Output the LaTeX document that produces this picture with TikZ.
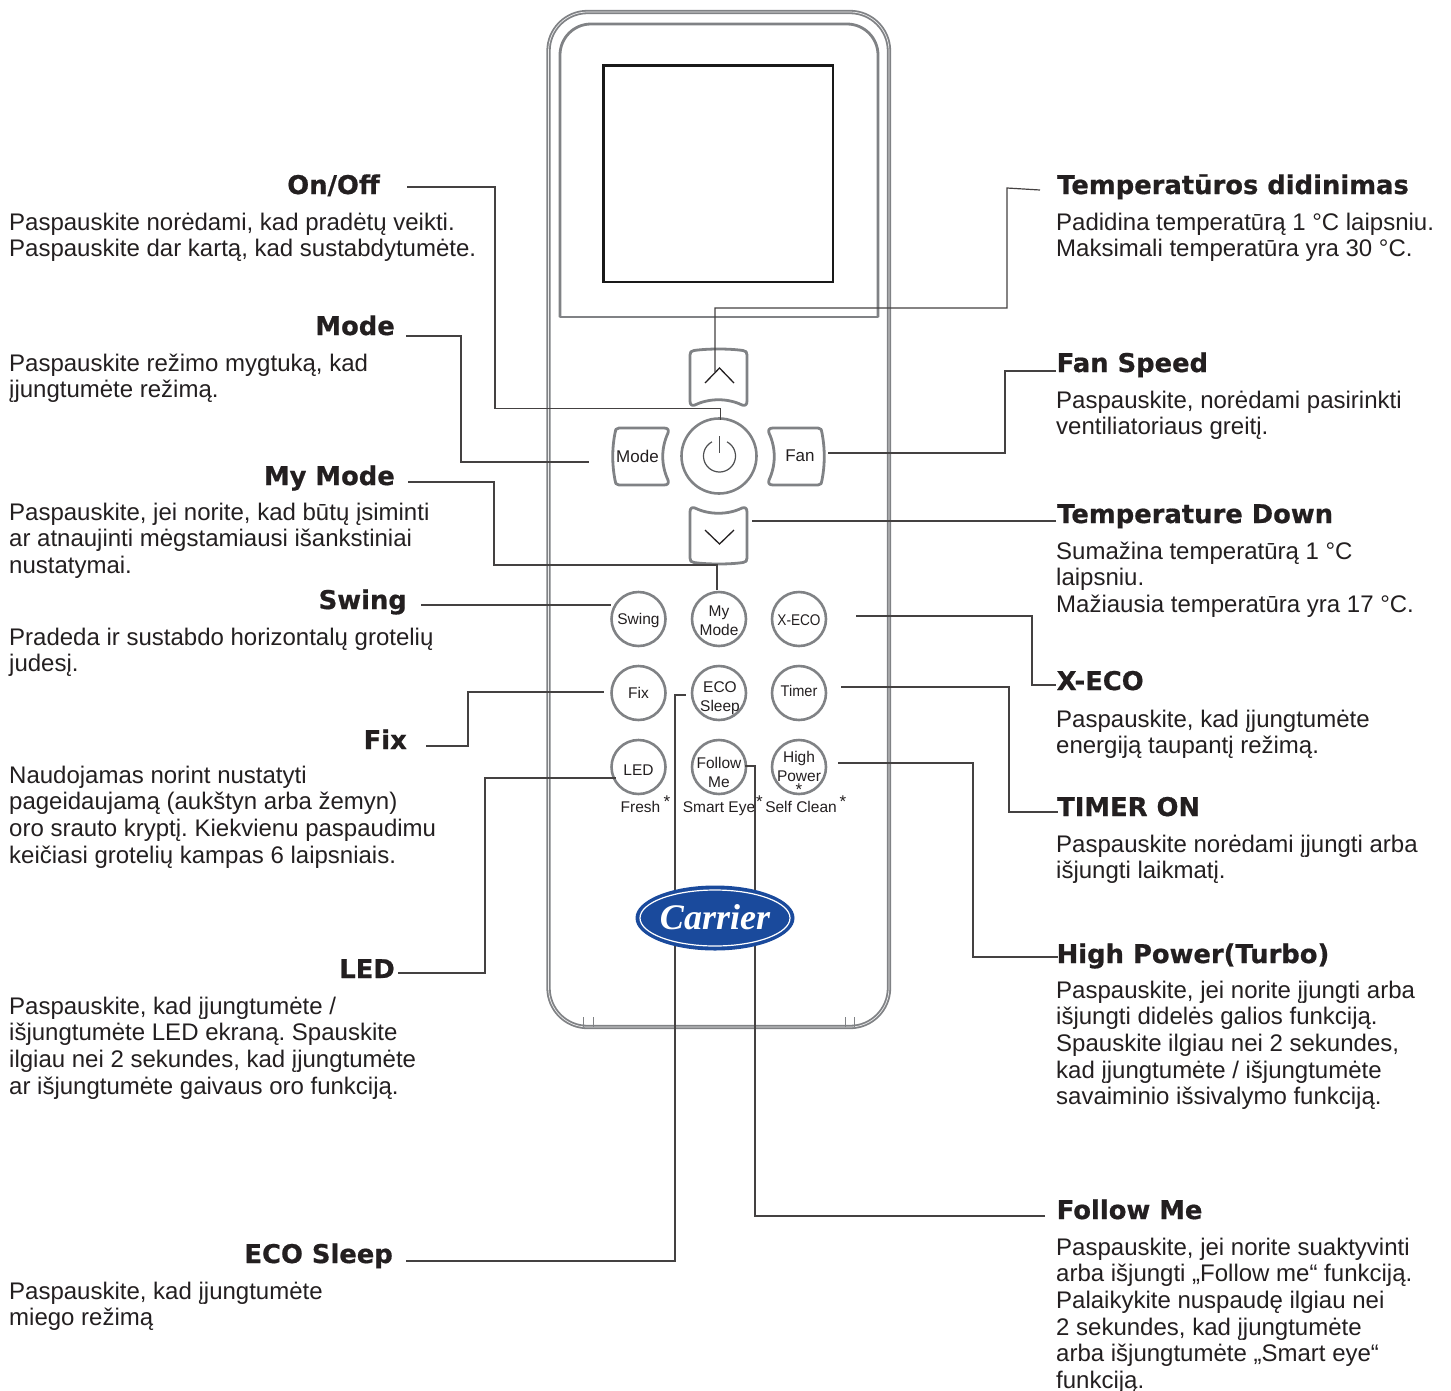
\documentclass[tikz,border=0pt]{standalone}
\usepackage{fontspec}
\setmainfont{Liberation Sans}
\newfontfamily\headfont{DejaVu Sans}[BoldFont={DejaVu Sans Bold},BoldFeatures={FakeBold=0.7}]
\newfontfamily\logofont{Liberation Serif}
\definecolor{rgray}{HTML}{808285}
\definecolor{rline}{HTML}{231F20}
\definecolor{cblue}{HTML}{1A4A9C}
\usetikzlibrary{calc,shapes.geometric}
\tikzset{
  head/.style={inner sep=0pt,font={\headfont\bfseries\fontsize{25.8}{28}\selectfont},text=rline},
  headl/.style={head,anchor=base east},
  headr/.style={head,anchor=base west},
  body/.style={inner sep=0pt,anchor=north west,align=left,text=rline,font={\frenchspacing\fontsize{24}{26.6}\selectfont}},
  conn/.style={draw=rline!85!white,line width=1.2pt},
  rim/.style={draw=rgray,line width=2.8pt,line join=round},
  thinrim/.style={draw=rgray,line width=1.8pt},
  roundbtn/.style={circle,draw=rgray,line width=2.6pt,minimum size=54pt,inner sep=0pt,text=rline,font={\fontsize{15.5}{18.5}\selectfont}},
  btxt/.style={inner sep=0pt,text=rline,font={\fontsize{15.5}{18}\selectfont}},
  star/.style={inner sep=0pt,text=rline,font={\fontsize{17}{18}\selectfont}},
}
\newcommand{\txtblock}[4]{\node[body] (#1) at (#2,#3-18.6) {\strut #4};}
\newcommand{\mv}[2]{\raisebox{#1}[0pt][0pt]{\begin{tabular}{@{}c@{}}#2\end{tabular}}}
\begin{document}
\begin{tikzpicture}[x=1pt,y=-1pt]
\useasboundingbox (0,0) rectangle (1451,1390);
% body of the remote
\draw[thinrim,double=white!85!rgray,double distance=0.7pt,rounded corners=39pt] (548.5,12) rectangle (889,1027);
\draw[rim,rounded corners=31pt] (560,317) -- (560,24) -- (878,24) -- (878,317);
\draw[rim,line width=2pt] (560,285) -- (560,317) -- (878,317) -- (878,285);
\foreach \x in {583,593,845,854}{\draw[rgray,line width=1pt] (\x,1017) -- (\x,1027);}
\draw[line width=2.6pt,draw=black!90] (603.5,65.5) rectangle (833,282);
% d-pad
\node[circle,draw=rgray,line width=2.6pt,minimum size=75pt,inner sep=0pt] (power) at (719,456) {};
\draw[rgray!60!black,line width=1.2pt] plot[domain=-62:242,samples=40] ({719.5+16*cos(\x)},{456+16*sin(\x)});
\draw[rgray!60!black,line width=1.4pt] (719.5,436) -- (719.5,453);
\draw[rim] (694,350.5) .. controls (708,348.5) and (729,348.5) .. (743,350.5) .. controls (746,351) and (747,352) .. (747,355) -- (747,401) .. controls (747,405) and (745,406) .. (742,405) .. controls (728,398) and (709,398) .. (695,405) .. controls (692,406) and (690,405) .. (690,401) -- (690,355) .. controls (690,352) and (691,351) .. (694,350.5) -- cycle;
\draw[rline,line width=1.3pt] (705,383) -- (719.5,368) -- (734,383);
\draw[rim] (694,562.5) .. controls (708,564.5) and (729,564.5) .. (743,562.5) .. controls (746,562) and (747,561) .. (747,558) -- (747,512) .. controls (747,508) and (745,507) .. (742,508) .. controls (728,515) and (709,515) .. (695,508) .. controls (692,507) and (690,508) .. (690,512) -- (690,558) .. controls (690,561) and (691,562) .. (694,562.5) -- cycle;
\draw[rline,line width=1.3pt] (705,530) -- (719.5,544) -- (734,530);
\draw[rim] (619,428) -- (664,428) .. controls (668,428) and (669,430) .. (668,433) .. controls (661,448) and (661,465) .. (668,480) .. controls (669,483) and (668,485) .. (664,485) -- (619,485) .. controls (616,485) and (615,483) .. (615,480) .. controls (612,465) and (612,448) .. (615,433) .. controls (615,430) and (616,428) .. (619,428) -- cycle;
\node[btxt,font={\fontsize{17}{18}\selectfont}] (modebtn) at (637.5,456) {Mode};
\draw[rim] (818,428) -- (773,428) .. controls (769,428) and (768,430) .. (769,433) .. controls (776,448) and (776,465) .. (769,480) .. controls (768,483) and (769,485) .. (773,485) -- (818,485) .. controls (821,485) and (822,483) .. (822,480) .. controls (825,465) and (825,448) .. (822,433) .. controls (822,430) and (821,428) .. (818,428) -- cycle;
\node[btxt,font={\fontsize{17}{18}\selectfont}] (fanbtn) at (800,456) {Fan};
\coordinate (upbtn) at (715,372);
\coordinate (downbtn) at (752,521);
% round buttons
\node[roundbtn] (swingbtn) at (638.5,619) {\mv{-5.65pt}{Swing}};
\node[roundbtn] (mymodebtn) at (719,619) {\mv{-7pt}{My\\Mode}};
\node[roundbtn] (xecobtn) at (799,619) {\mv{-6.65pt}{\scalebox{0.88}[1]{X-ECO}}};
\node[roundbtn] (fixbtn) at (638.5,693) {\mv{-5.65pt}{Fix}};
\node[roundbtn] (ecobtn) at (719,693) {\mv{-8.65pt}{\hspace*{2pt}ECO\\\hspace*{2pt}Sleep}};
\node[roundbtn] (timerbtn) at (799,693) {\mv{-3.65pt}{\scalebox{0.94}[1]{Timer}}};
\node[roundbtn] (ledbtn) at (638.5,767) {\mv{-8.65pt}{LED}};
\node[roundbtn] (followbtn) at (719,767) {\mv{-10.65pt}{Follow\\Me}};
\node[roundbtn] (highbtn) at (799,767) {\mv{-4.65pt}{High\\Power}};
\node[star] (s0) at (799,790) {*};
\node[btxt,anchor=base] (fresh) at (640.5,812) {Fresh};
\node[btxt,anchor=base] (smart) at (719,812) {Smart Eye};
\node[btxt,anchor=base] (selfc) at (801,812) {Self Clean};
\node[star] (s1) at (667,802) {*};
\node[star] (s2) at (759.5,802) {*};
\node[star] (s3) at (843,802) {*};
% headings, left
\node[headl] (hOn) at (380,194) {On/Off};
\node[headl] (hMode) at (395,335) {Mode};
\node[headl] (hMy) at (395,485) {My Mode};
\node[headl] (hSwing) at (407,609) {Swing};
\node[headl] (hFix) at (407,749) {Fix};
\node[headl] (hLed) at (395,978) {LED};
\node[headl] (hEco) at (393,1263) {ECO Sleep};
% headings, right
\node[headr] (hUp) at (1057,194) {Temperatūros didinimas};
\node[headr] (hFan) at (1056.5,372) {Fan Speed};
\node[headr] (hDown) at (1057,523) {Temperature Down};
\node[headr] (hXeco) at (1056.5,690) {X-ECO};
\node[headr] (hTimer) at (1057,816) {TIMER ON};
\node[headr] (hHigh) at (1056.5,963) {High Power(Turbo)};
\node[headr] (hFollow) at (1056.5,1219) {Follow Me};
% texts, left
\txtblock{tOn}{9}{230}{Paspauskite norėdami, kad pradėtų veikti.\\Paspauskite dar kartą, kad sustabdytumėte.}
\txtblock{tMode}{9}{371}{Paspauskite režimo mygtuką, kad\\įjungtumėte režimą.}
\txtblock{tMy}{9}{520}{Paspauskite, jei norite, kad būtų įsiminti\\ar atnaujinti mėgstamiausi išankstiniai\\nustatymai.}
\txtblock{tSwing}{9}{645}{Pradeda ir sustabdo horizontalų grotelių\\judesį.}
\txtblock{tFix}{9}{783}{Naudojamas norint nustatyti\\pageidaujamą (aukštyn arba žemyn)\\oro srauto kryptį. Kiekvienu paspaudimu\\keičiasi grotelių kampas 6 laipsniais.}
\txtblock{tLed}{9}{1014}{Paspauskite, kad įjungtumėte /\\išjungtumėte LED ekraną. Spauskite\\ilgiau nei 2 sekundes, kad įjungtumėte\\ar išjungtumėte gaivaus oro funkciją.}
\txtblock{tEco}{9}{1299}{Paspauskite, kad įjungtumėte\\miego režimą}
% texts, right
\txtblock{tUp}{1056}{230}{Padidina temperatūrą 1 °C laipsniu.\\Maksimali temperatūra yra 30 °C.}
\txtblock{tFan}{1056}{408}{Paspauskite, norėdami pasirinkti\\ventiliatoriaus greitį.}
\txtblock{tDown}{1056}{559}{Sumažina temperatūrą 1 °C\\laipsniu.\\Mažiausia temperatūra yra 17 °C.}
\txtblock{tXeco}{1056}{727}{Paspauskite, kad įjungtumėte\\energiją taupantį režimą.}
\txtblock{tTimer}{1056}{852}{Paspauskite norėdami įjungti arba\\išjungti laikmatį.}
\txtblock{tHigh}{1056}{998}{Paspauskite, jei norite įjungti arba\\išjungti didelės galios funkciją.\\Spauskite ilgiau nei 2 sekundes,\\kad įjungtumėte / išjungtumėte\\savaiminio išsivalymo funkciją.}
\txtblock{tFollow}{1056}{1255}{Paspauskite, jei norite suaktyvinti\\arba išjungti „Follow me“ funkciją.\\Palaikykite nuspaudę ilgiau nei\\2 sekundes, kad įjungtumėte\\arba išjungtumėte „Smart eye“\\funkciją.}
% connectors
\coordinate (cOn) at (407,187);
\coordinate (cModeL) at (406,336);
\coordinate (cMy) at (408,482);
\coordinate (cSwing) at (421,605);
\coordinate (cFix) at (426,746);
\coordinate (cLed) at (398,973);
\coordinate (cEco) at (406,1261);
\coordinate (cUp) at (1040,190);
\coordinate (cFan) at (1056,371);
\coordinate (cDown) at (1056,521);
\coordinate (cXeco) at (1056,685);
\coordinate (cTimer) at (1058,812);
\coordinate (cHigh) at (1058,957);
\coordinate (cFollow) at (1045,1216);
\coordinate (eMode) at (589,462);
\coordinate (eFan) at (828,453);
\coordinate (eSwing) at (611,605);
\coordinate (eXeco) at (856,616);
\coordinate (eFix) at (604,692);
\coordinate (eTimer) at (841,687);
\coordinate (eLed) at (616,778);
\coordinate (eEco) at (686,695);
\coordinate (eHigh) at (838,763);
\coordinate (eFollow) at (745,766);
\coordinate (eMy) at (717,590);
\coordinate (ePow) at (720.5,420);
\draw[conn] (cOn) -- (495,187) -- (495,408.5) -- (720.5,408.5) -- (ePow);
\draw[conn] (cUp) -- (1007,188) -- (1007,308) -- (715,308) -- (upbtn);
\draw[conn] (cModeL) -- (461,336) -- (461,462) -- (eMode);
\draw[conn] (cFan) -- (1005,371) -- (1005,453) -- (eFan);
\draw[conn] (cMy) -- (494,482) -- (494,565) -- (717,565) -- (eMy);
\draw[conn] (cDown) -- (downbtn);
\draw[conn] (cSwing) -- (eSwing);
\draw[conn] (eXeco) -- (1032,616) -- (1032,685) -- (cXeco);
\draw[conn] (cFix) -- (468,746) -- (468,692) -- (eFix);
\draw[conn] (eTimer) -- (1009,687) -- (1009,812) -- (cTimer);
\draw[conn] (cEco) -- (675,1261) -- (675,695) -- (eEco);
\draw[conn] (cLed) -- (485,973) -- (485,778) -- (eLed);
\draw[conn] (eHigh) -- (973,763) -- (973,957) -- (cHigh);
\draw[conn] (cFollow) -- (755,1216) -- (755,766) -- (eFollow);
% logo
\node[ellipse,fill=cblue,minimum width=159pt,minimum height=65pt,inner sep=0pt] (logo) at (715,918) {};
\draw[white,line width=1.2pt] (715,918) ellipse[x radius=75,y radius=28];
\node[inner sep=0pt,text=white,font={\logofont\bfseries\itshape\fontsize{36}{37}\selectfont}] (logotxt) at (715,917) {Carrier};
\end{tikzpicture}
\end{document}
